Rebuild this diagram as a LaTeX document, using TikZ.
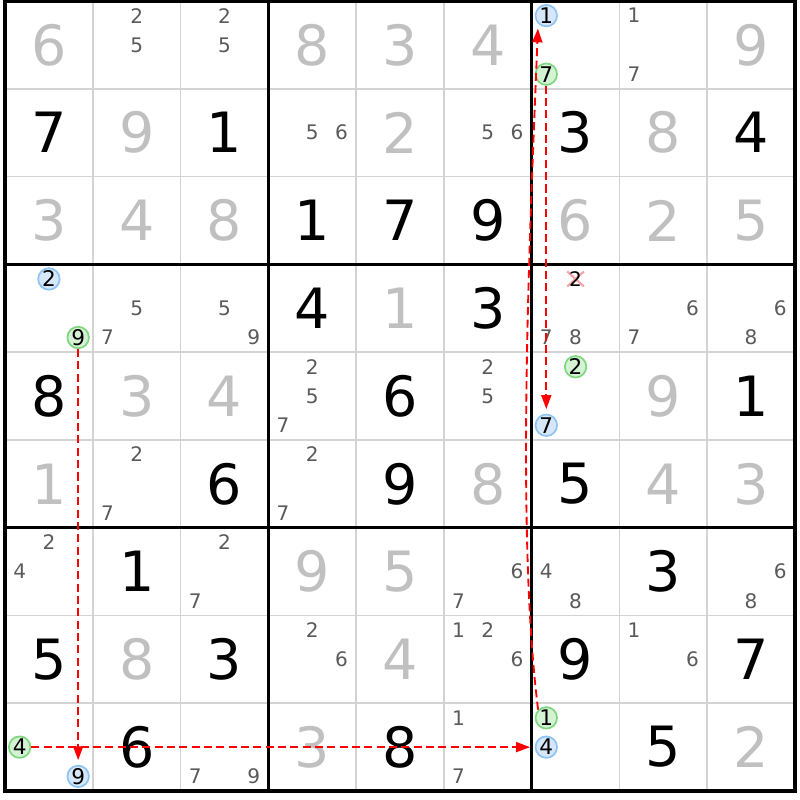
\documentclass[tikz,border=0pt]{standalone}
\usepackage{fontspec}
\setmainfont{DejaVu Sans}
\usepackage{tikz}
\usepackage{xcolor}
\definecolor{SudokuGrid}{HTML}{D3D3D3}
\definecolor{SudokuSolved}{HTML}{C0C0C0}
\definecolor{SudokuCand}{HTML}{5A5A5A}
\definecolor{SudokuBlue}{HTML}{D6E7FA}
\definecolor{SudokuBlueLine}{HTML}{8EC3F4}
\definecolor{SudokuGreen}{HTML}{D4F2D4}
\definecolor{SudokuGreenLine}{HTML}{7FD67F}
\definecolor{SudokuStrike}{HTML}{F4A3A8}
\usetikzlibrary{arrows.meta}

\begin{document}
\begin{tikzpicture}[x=1cm, y=-1cm,
  given/.style={font=\fontsize{18}{18}\selectfont, inner sep=0pt},
  solved/.style={given, text=SudokuSolved},
  cand/.style={font=\fontsize{6.5}{6.5}\selectfont, inner sep=0pt, text=SudokuCand},
  onblue/.style={cand, font=\fontsize{7}{7}\selectfont, text=black, circle, minimum size=0.245cm, line width=0.55pt, draw=SudokuBlueLine, fill=SudokuBlue},
  ongreen/.style={onblue, draw=SudokuGreenLine, fill=SudokuGreen},
  link/.style={red, line width=0.6pt, dash pattern=on 2.6pt off 1.4pt, -{Triangle[length=4.5pt,width=3.2pt]}, shorten >=1.5pt}]
  \useasboundingbox (-0.057,-0.0114) rectangle (9.057,9.1025);
  % grid lines
  \foreach \i in {1,2,4,5,7,8} {
    \draw[SudokuGrid, line width=0.5pt] (\i,0) -- (\i,9);
    \draw[SudokuGrid, line width=0.5pt] (0,\i) -- (9,\i);
  }
  \foreach \i in {3,6} {
    \draw[line width=1pt] (\i,0) -- (\i,9);
    \draw[line width=1pt] (0,\i) -- (9,\i);
  }
  \draw[line width=1pt] (0,0) rectangle (9,9);
  % givens (black) and solved cells (gray)
  \foreach \r/\c/\d in {2/1/7, 2/3/1, 2/7/3, 2/9/4, 3/4/1, 3/5/7, 3/6/9, 4/4/4, 4/6/3, 5/1/8, 5/5/6, 5/9/1,
    6/3/6, 6/5/9, 6/7/5, 7/2/1, 7/8/3, 8/1/5, 8/3/3, 8/7/9, 8/9/7, 9/2/6, 9/5/8, 9/8/5}
    \node[given] at (\c-0.5,\r-0.5) {\d};
  \foreach \r/\c/\d in {1/1/6, 1/4/8, 1/5/3, 1/6/4, 1/9/9, 2/2/9, 2/5/2, 2/8/8, 3/1/3, 3/2/4, 3/3/8, 3/7/6, 3/8/2, 3/9/5,
    4/5/1, 5/2/3, 5/3/4, 5/8/9, 6/1/1, 6/6/8, 6/8/4, 6/9/3, 7/4/9, 7/5/5, 8/2/8, 8/5/4, 9/4/3, 9/9/2}
    \node[solved] at (\c-0.5,\r-0.5) {\d};
  % pencil marks
  \foreach \r/\c/\k in {1/2/2, 1/2/5, 1/3/2, 1/3/5, 1/8/1, 1/8/7, 2/4/5, 2/4/6, 2/6/5, 2/6/6,
    4/2/5, 4/2/7, 4/3/5, 4/3/9, 4/7/7, 4/7/8, 4/8/6, 4/8/7, 4/9/6, 4/9/8,
    5/4/2, 5/4/5, 5/4/7, 5/6/2, 5/6/5, 6/2/2, 6/2/7, 6/4/2, 6/4/7,
    7/1/2, 7/1/4, 7/3/2, 7/3/7, 7/6/6, 7/6/7, 7/7/4, 7/7/8, 7/9/6, 7/9/8,
    8/4/2, 8/4/6, 8/6/1, 8/6/2, 8/6/6, 8/8/1, 8/8/6, 9/3/7, 9/3/9, 9/6/1, 9/6/7}
    \node[cand] at ({\c-1+(mod(\k-1,3)+0.5)/3},{\r-1+(floor((\k-1)/3)+0.5)/3}) {\k};
  % chain candidates
  \foreach \r/\c/\k/\s in {1/7/1/onblue, 1/7/7/ongreen, 4/1/2/onblue, 4/1/9/ongreen, 5/7/2/ongreen, 5/7/7/onblue,
    9/1/4/ongreen, 9/1/9/onblue, 9/7/1/ongreen, 9/7/4/onblue}
    \node[\s] (c\r\c-\k) at ({\c-1+(mod(\k-1,3)+0.5)/3},{\r-1+(floor((\k-1)/3)+0.5)/3}) {\k};
  % eliminated candidate
  \draw[SudokuStrike, line width=0.7pt] (6.5,3.1667) +(-0.095,-0.085) -- +(0.095,0.085)
    (6.5,3.1667) +(-0.095,0.085) -- +(0.095,-0.085);
  \node[cand, text=black] (c47-2) at (6.5,3.1667) {2};
  % links
  \draw[link] (c41-9) -- (c91-9);
  \draw[link] (c91-4) -- (c97-4);
  \draw[link] (c97-1.north west) .. controls +(-0.25,-2) and +(-0.1,2.5) .. (c17-1.south west);
  \draw[link] (c17-7) -- (c57-7);
\end{tikzpicture}
\end{document}
